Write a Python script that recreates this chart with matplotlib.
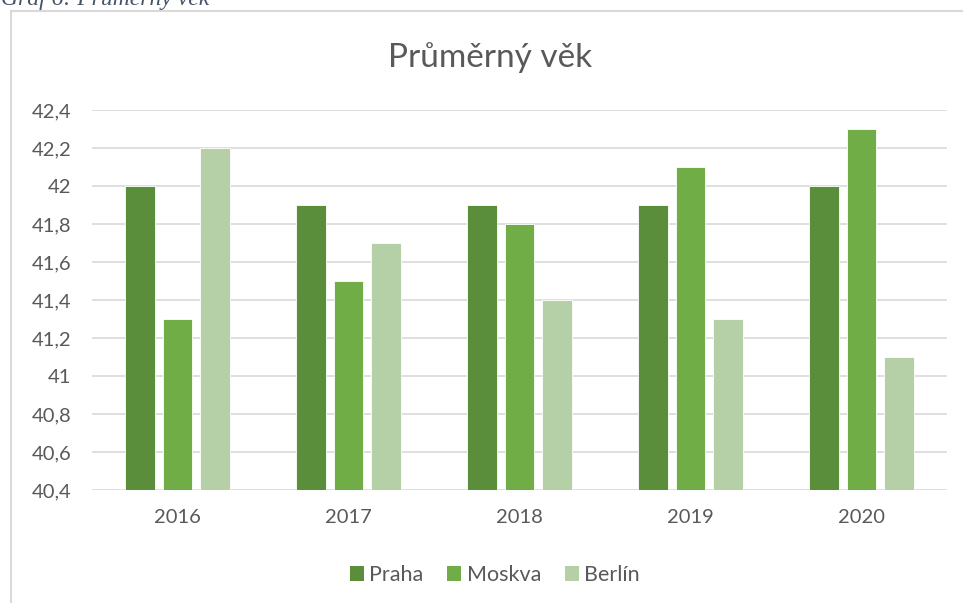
import matplotlib
matplotlib.use("Agg")
import matplotlib.pyplot as plt
from matplotlib.patches import Patch
from matplotlib.lines import Line2D
import numpy as np

years = ["2016", "2017", "2018", "2019", "2020"]
series_names = ["Praha", "Moskva", "Berlín"]
praha = [42.0, 41.9, 41.9, 41.9, 42.0]
moskva = [41.3, 41.5, 41.8, 42.1, 42.3]
berlin = [42.2, 41.7, 41.4, 41.3, 41.1]
yticks = [40.4, 40.6, 40.8, 41.0, 41.2, 41.4, 41.6, 41.8, 42.0, 42.2, 42.4]
ytick_labels = ["40,4", "40,6", "40,8", "41", "41,2", "41,4", "41,6", "41,8", "42", "42,2", "42,4"]
colors = ["#5B8E3A", "#70AD47", "#B5CFA6"]

FONT = ["Lato", "DejaVu Sans"]
plt.rcParams['font.family'] = FONT
TXT = "#595959"

W, H = 963, 603
fig = plt.figure(figsize=(W/100, H/100), dpi=100)
ax = fig.add_axes([92/W, 1-490/H, 855/W, 380/H])

x = np.arange(len(years))
step = 0.219
width = 0.173
base = 40.4
for i, (vals, c) in enumerate(zip([praha, moskva, berlin], colors)):
    heights = [v - base for v in vals]
    ax.bar(x + (i-1)*step, heights, width, bottom=base, color=c,
           edgecolor="white", linewidth=0.6, zorder=3)

ax.set_xlim(-0.5, len(years)-0.5)
ax.set_ylim(40.4, 42.4)
ax.set_yticks(yticks)
ax.set_yticklabels(ytick_labels)
ax.set_xticks(x)
ax.set_xticklabels(years)
ax.grid(axis='y', color="#D9D9D9", linewidth=1.2, zorder=0)
ax.set_axisbelow(True)
for s in ax.spines.values():
    s.set_visible(False)
ax.tick_params(axis='both', length=0, labelsize=14.5, labelcolor=TXT)
ax.tick_params(axis='y', pad=15)
ax.tick_params(axis='x', pad=14)

fig.text(0.509, 1-58/H, "Průměrný věk", ha='center', va='center',
         fontsize=24, color=TXT, family=FONT)

handles = [Patch(facecolor=c, edgecolor='none') for c in colors]
fig.legend(handles, series_names, loc='center', bbox_to_anchor=(0.514, 1-575/H),
           ncol=3, frameon=False, fontsize=15.5, labelcolor=TXT,
           handlelength=0.65, handleheight=0.65, handletextpad=0.25, columnspacing=1.1)

# outer chart frame (left + top)
fig.add_artist(Line2D([10.5/W, 10.5/W], [0, 1-11/H], transform=fig.transFigure,
                      color="#D9D9D9", linewidth=1.5))
fig.add_artist(Line2D([10.5/W, 1], [1-11/H, 1-11/H], transform=fig.transFigure,
                      color="#D9D9D9", linewidth=1.5))

# clipped caption above chart
fig.text(1/W, 1-5/H, "Graf 6: Průměrný věk", ha='left', va='baseline',
         fontsize=17, style='italic', color="#44546A",
         family=["Liberation Serif", "DejaVu Serif"])

fig.savefig("out.png", dpi=100)
